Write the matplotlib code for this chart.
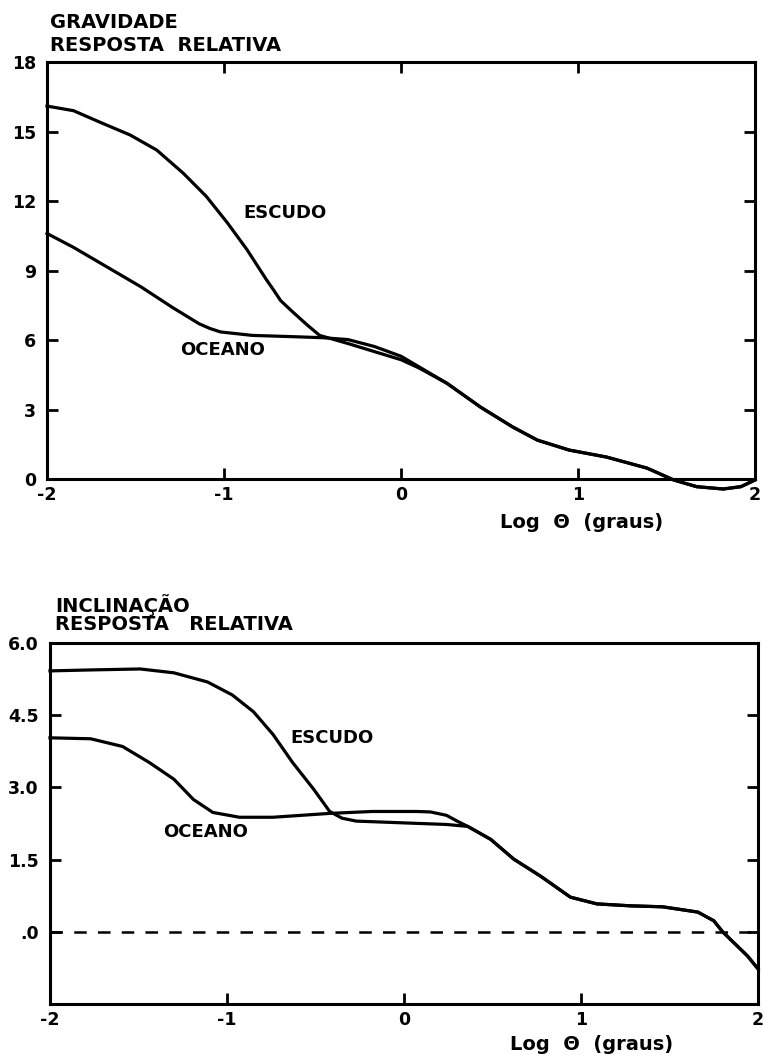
import numpy as np
import matplotlib
matplotlib.use("Agg")
import matplotlib.pyplot as plt

plt.rcParams['font.family'] = ['DejaVu Sans']
plt.rcParams['font.weight'] = 'bold'

# gravidade - resposta relativa
grav_escudo_x = [-2.0, -1.85, -1.70, -1.53, -1.38, -1.23, -1.10, -0.98, -0.87, -0.76,
                 -0.72, -0.68, -0.61, -0.53, -0.46, -0.30, -0.15, 0.0, 0.10, 0.26,
                 0.45, 0.63, 0.77, 0.95, 1.16, 1.39, 1.54, 1.67, 1.82, 1.92, 2.0]
grav_escudo_y = [16.1, 15.9, 15.4, 14.85, 14.2, 13.2, 12.2, 11.05, 9.9, 8.6,
                 8.16, 7.7, 7.2, 6.65, 6.2, 5.85, 5.5, 5.15, 4.8, 4.13,
                 3.1, 2.25, 1.68, 1.25, 0.95, 0.47, -0.04, -0.33, -0.43, -0.33, -0.04]
grav_oceano_x = [-2.0, -1.85, -1.66, -1.47, -1.29, -1.14, -1.08, -1.02, -0.84, -0.63,
                 -0.44, -0.30, -0.15, 0.0, 0.10, 0.26, 0.45, 0.63, 0.77, 0.95,
                 1.16, 1.39, 1.54, 1.67, 1.82, 1.92, 2.0]
grav_oceano_y = [10.6, 10.0, 9.15, 8.3, 7.4, 6.7, 6.5, 6.35, 6.2, 6.15,
                 6.1, 6.02, 5.72, 5.3, 4.85, 4.13, 3.1, 2.25, 1.68, 1.25,
                 0.95, 0.47, -0.04, -0.33, -0.43, -0.33, -0.04]

# inclinacao - resposta relativa
incl_escudo_x = [-2.0, -1.77, -1.49, -1.30, -1.11, -0.97, -0.85, -0.74, -0.63, -0.51,
                 -0.42, -0.35, -0.27, 0.02, 0.24, 0.36, 0.49, 0.62, 0.77, 0.94,
                 1.09, 1.28, 1.46, 1.66, 1.75, 1.80, 1.94, 2.0]
incl_escudo_y = [5.42, 5.44, 5.46, 5.38, 5.19, 4.92, 4.57, 4.10, 3.52, 2.96,
                 2.5, 2.36, 2.3, 2.26, 2.23, 2.19, 1.92, 1.51, 1.16, 0.72,
                 0.58, 0.54, 0.52, 0.41, 0.23, 0.0, -0.5, -0.77]
incl_oceano_x = [-2.0, -1.77, -1.59, -1.44, -1.30, -1.19, -1.08, -0.93, -0.74, -0.42,
                 -0.18, 0.07, 0.15, 0.24, 0.30, 0.36, 0.49, 0.62, 0.77, 0.94,
                 1.09, 1.28, 1.46, 1.66, 1.75, 1.80, 1.94, 2.0]
incl_oceano_y = [4.03, 4.01, 3.85, 3.52, 3.17, 2.75, 2.48, 2.38, 2.38, 2.46,
                 2.5, 2.5, 2.49, 2.42, 2.3, 2.19, 1.92, 1.51, 1.16, 0.72,
                 0.58, 0.54, 0.52, 0.41, 0.23, 0.0, -0.5, -0.77]

x_ticks = [-2, -1, 0, 1, 2]
x_ticklabels = ['-2', '-1', '0', '1', '2']
grav_ticks = [0, 3, 6, 9, 12, 15, 18]
grav_ticklabels = ['0', '3', '6', '9', '12', '15', '18']
incl_ticks = [0, 1.5, 3.0, 4.5, 6.0]
incl_ticklabels = ['.0', '1.5', '3.0', '4.5', '6.0']

fig = plt.figure(figsize=(7.63, 10.57), dpi=100)
ax1 = fig.add_axes([0.0616, 0.5468, 0.928, 0.3945])
ax2 = fig.add_axes([0.0655, 0.0501, 0.928, 0.3416])

lw = 2.3
ax1.plot(grav_escudo_x, grav_escudo_y, color='black', lw=lw, clip_on=False,
         solid_joinstyle='round')
ax1.plot(grav_oceano_x, grav_oceano_y, color='black', lw=lw, clip_on=False,
         solid_joinstyle='round')
ax2.plot(incl_escudo_x, incl_escudo_y, color='black', lw=lw, clip_on=False,
         solid_joinstyle='round')
ax2.plot(incl_oceano_x, incl_oceano_y, color='black', lw=lw, clip_on=False,
         solid_joinstyle='round')
ax2.axhline(0, color='black', lw=1.8, dashes=(5, 4.5))

ax1.set_xlim(-2, 2)
ax1.set_ylim(0, 18)
ax2.set_xlim(-2, 2)
ax2.set_ylim(-1.5, 6.0)

for ax in (ax1, ax2):
    for s in ax.spines.values():
        s.set_linewidth(2.2)
    ax.set_xticks(x_ticks)
    ax.set_xticklabels(x_ticklabels)
    ax.tick_params(axis='x', direction='in', length=8, width=2, labelsize=12.5, pad=5)
    ax.tick_params(axis='y', direction='in', length=8, width=2, labelsize=12.5, pad=8,
                   right=True)

ax1.tick_params(axis='x', top=True)
ax1.set_yticks(grav_ticks)
ax1.set_yticklabels(grav_ticklabels)
ax2.set_yticks(incl_ticks)
ax2.set_yticklabels(incl_ticklabels)

ax1.text(-0.89, 11.5, 'ESCUDO', fontsize=13, fontweight='bold', va='center')
ax1.text(-1.25, 5.57, 'OCEANO', fontsize=13, fontweight='bold', va='center')
ax2.text(-0.64, 4.03, 'ESCUDO', fontsize=13, fontweight='bold', va='center')
ax2.text(-1.36, 2.07, 'OCEANO', fontsize=13, fontweight='bold', va='center')

fig.text(0.066, 0.979, 'GRAVIDADE', fontsize=14, fontweight='bold', va='center')
fig.text(0.066, 0.9574, 'RESPOSTA  RELATIVA', fontsize=14, fontweight='bold', va='center')
fig.text(0.072, 0.4276, 'INCLINAÇÃO', fontsize=14, fontweight='bold', va='center')
fig.text(0.072, 0.4096, 'RESPOSTA   RELATIVA', fontsize=14, fontweight='bold', va='center')

fig.text(0.655, 1 - 523 / 1057, 'Log  Θ  (graus)', fontsize=14, fontweight='bold', va='center')
fig.text(0.668, 1 - 1045 / 1057, 'Log  Θ  (graus)', fontsize=14, fontweight='bold', va='center')

fig.savefig('out.png', dpi=100)
